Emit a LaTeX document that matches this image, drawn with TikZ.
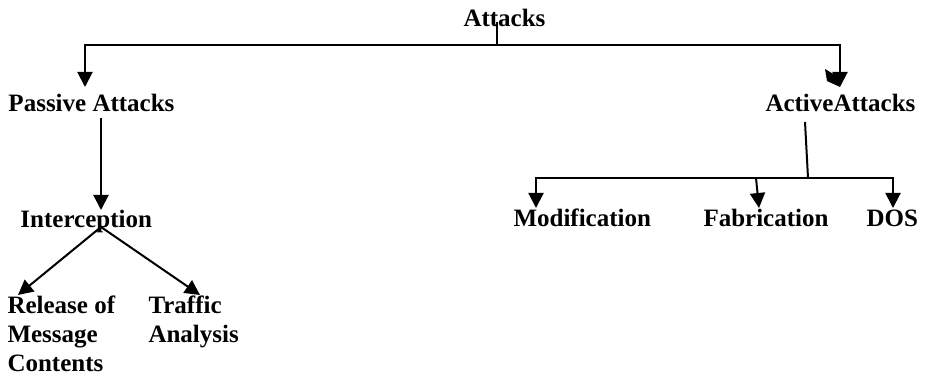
\documentclass[tikz,border=0pt]{standalone}
\usepackage{fontspec}
\setmainfont{Liberation Serif}
\usetikzlibrary{calc}
\usetikzlibrary{arrows.meta}

\begin{document}
\begin{tikzpicture}[x=0.4pt, y=-0.4pt,
    lbl/.style={font=\fontsize{10}{11.6}\selectfont\bfseries, inner sep=0pt,
        anchor=base west, align=left},
    wire/.style={line width=0.8pt},
    link/.style={wire, -{Triangle[length=6pt,width=6pt]}}]
\useasboundingbox (0,0) rectangle (925,377);

% Labels of the tree (base = last line for the two-line ones)
\node[lbl] (attacks) at (463,27) {Attacks};
\node[lbl] (passive) at (8,112) {Passive Attacks};
\node[lbl] (active) at (765,112) {ActiveAttacks};
\node[lbl] (intercept) at (20,228) {Interception};
\node[lbl] (release) at (7,372) {Release of\\Message\\Contents};
\node[lbl] (traffic) at (148,343) {Traffic\\Analysis};
\node[lbl] (modif) at (513,227) {Modification};
\node[lbl] (fabric) at (703,227) {Fabrication};
\node[lbl] (dos) at (866,227) {DOS};

% Junctions and arrow ends
\coordinate (topHub) at (497,45);
\coordinate (passiveTip) at (85,87);
\coordinate (activeTip) at (840,87);
\coordinate (interTip) at (101,210);
\coordinate (releaseTip) at (18,295);
\coordinate (trafficTip) at (200,295);
\coordinate (activeHub) at (808,178);
\coordinate (fabricTop) at (756,178);
\coordinate (modifTip) at (536,208);
\coordinate (fabricTip) at (759,208);
\coordinate (dosTip) at (893,208);

% Top level split
\draw[wire] ($(attacks.base west)+(34,-5)$) -- (topHub);
\draw[link] (topHub) -| (passiveTip);
\draw[link] (topHub) -| (activeTip);
\fill (825,69) -- (835,75) -- (activeTip) -- (827,81) -- cycle;

% Passive branch
\draw[link] ($(passive.base west)+(93,6)$) -- (interTip);
\draw[link] ($(intercept.base west)+(81,-1)$) -- (releaseTip);
\draw[link] ($(intercept.base west)+(81,-1)$) -- (trafficTip);

% Active branch
\draw[wire] ($(active.base west)+(40,10)$) -- (activeHub);
\draw[link] (activeHub) -| (modifTip);
\draw[link] (activeHub) -| (dosTip);
\draw[link] (fabricTop) -- (fabricTip);
\end{tikzpicture}
\end{document}
